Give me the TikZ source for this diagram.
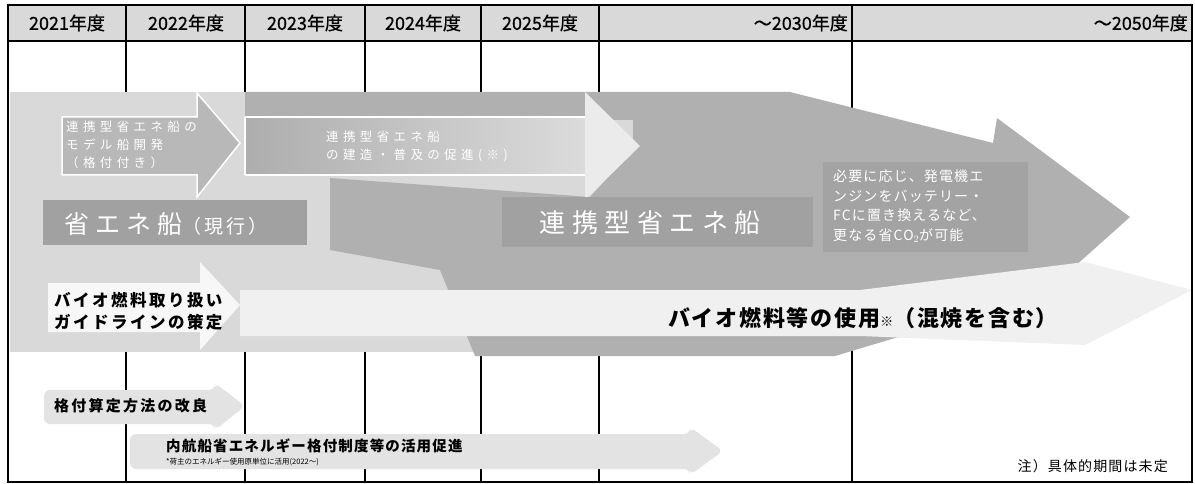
\documentclass[tikz,border=0pt]{standalone}
\usepackage{fontspec}
\newfontfamily\jpA{Noto Sans CJK JP}
\newfontfamily\jpH{Noto Sans CJK JP}[FakeBold=0.8]
\newfontfamily\jpB{Noto Sans CJK JP}[LetterSpace=35]
\newfontfamily\jpC{Noto Sans CJK JP}[LetterSpace=25]
\newfontfamily\jpD{Noto Sans CJK JP}[LetterSpace=15]
\newfontfamily\jpE{Noto Sans CJK JP}[LetterSpace=8]
\begin{document}
\begin{tikzpicture}[x=1pt,y=-1pt,
  gridline/.style={line width=1.1pt,black},
  hdr/.style={font=\jpH\fontsize{18}{18}\selectfont,inner sep=0pt,anchor=center},
  hdrr/.style={font=\jpH\fontsize{18}{18}\selectfont,inner sep=0pt,anchor=east},
  lightreg/.style={fill=gray!30},
  darkreg/.style={fill=gray!62},
  bandreg/.style={fill=gray!12},
  darkbox/.style={fill=gray!74},
  smallwhite/.style={text=white,font=\jpB\fontsize{12.5}{18}\selectfont,align=left,inner sep=0pt,anchor=north west},
  bigwhite/.style={text=white,inner sep=0pt},
  blackbold/.style={text=black,inner sep=0pt,anchor=west},
  softarrow/.style={fill=gray!22,rounded corners=6pt}
]
\useasboundingbox (0,0) rectangle (1195,484);
\fill[white] (0,0) rectangle (1195,484);
% header band
\fill[gray!30] (8,5) rectangle (1192,41);
\foreach \x in {126,245,365,481,599,852} \draw[gridline] (\x,5) -- (\x,482);

% light region (current energy-saving ships)
\fill[lightreg] (10,92) rectangle (700,352);
% big dark arrow
\fill[darkreg] (245,92) -- (790,92) -- (993,143) -- (997,118) -- (1130,217) -- (1045,293)
  -- (835,356) -- (475,356) -- (440,270) -- (330,250) -- (330,178) -- (590,197) -- (633,150) -- (633,92) -- cycle;
\fill[darkreg] (245,92) rectangle (640,120);
% bio-fuel band
\fill[bandreg] (240,290) -- (860,290) -- (1085,262) -- (1192,290) -- (1085,345) -- (860,336) -- (240,336) -- cycle;

% arrow 1 (model ship development)
\filldraw[fill=gray!56,draw=white,line width=1.5pt]
  (62,117) -- (197,117) -- (197,93) -- (240,143) -- (197,197) -- (197,175) -- (62,175) -- cycle;
% arrow 2 (construction / promotion)
\shade[left color=gray!64,right color=gray!28]
  (245,117) -- (585,117) -- (585,175) -- (245,175) -- cycle;
\fill[gray!16] (585,117) -- (585,92) -- (640,146) -- (585,200) -- (585,175) -- cycle;
\draw[white,line width=1.5pt] (245,117) -- (585,117) (245,175) -- (585,175) (245,117) -- (245,175);

% dark label boxes
\fill[darkbox] (43,200) rectangle (307,245);
\fill[darkbox] (502,197) rectangle (813,247);
\fill[gray!72] (823,162) rectangle (1028,252);

% bio-fuel guideline arrow
\fill[gray!6] (48,283) -- (200,283) -- (200,262) -- (240,305) -- (200,350) -- (200,332) -- (48,332) -- cycle;

% bottom arrows
\fill[softarrow] (44,390) -- (215,390) -- (215,383) -- (245,406) -- (215,430) -- (215,424) -- (44,424) -- cycle;
\fill[softarrow] (130,434) -- (690,434) -- (690,427) -- (723,451) -- (690,475) -- (690,469) -- (130,469) -- cycle;

% frame
\draw[gridline] (8,5) rectangle (1192,482);
\draw[gridline] (8,41) -- (1192,41);

% header texts
\node[hdr] (h1) at (67,23) {2021年度};
\node[hdr] (h2) at (186,23) {2022年度};
\node[hdr] (h3) at (305,23) {2023年度};
\node[hdr] (h4) at (423,23) {2024年度};
\node[hdr] (h5) at (540,23) {2025年度};
\node[hdrr] (h6) at (848,23) {～2030年度};
\node[hdrr] (h7) at (1188,23) {～2050年度};

% texts
\node[smallwhite] (t1) at (66,121) {連携型省エネ船の\\モデル船開発\\（格付付き）};
\node[smallwhite] (t2) at (326,131) {連携型省エネ船\\の建造・普及の促進(※)};
\node[bigwhite,anchor=west] (t3) at (64,224) {{\jpC\fontsize{25}{25}\selectfont 省エネ船}{\jpD\fontsize{19}{19}\selectfont（現行）}};
\node[bigwhite,anchor=center,font=\jpC\fontsize{26}{26}\selectfont] (t4) at (650,223) {連携型省エネ船};
\node[text=white,font=\jpE\fontsize{14}{19.5}\selectfont,align=left,inner sep=0pt,anchor=north west] (t5) at (833,170)
  {必要に応じ、発電機エ\\ンジンをバッテリー・\\FCに置き換えるなど、\\更なる省CO$_2$が可能};
\node[blackbold,font=\jpD\bfseries\fontsize{16.5}{22}\selectfont,align=left] (t6) at (54,311) {バイオ燃料取り扱い\\ガイドラインの策定};
\node[blackbold,font=\jpE\bfseries\fontsize{22}{22}\selectfont] (t7) at (668,318) {バイオ燃料等の使用{\fontsize{13}{13}\selectfont ※}（混焼を含む）};
\node[blackbold,font=\jpD\bfseries\fontsize{15}{15}\selectfont] (t8) at (54,406) {格付算定方法の改良};
\node[blackbold,font=\jpE\bfseries\fontsize{14.5}{14.5}\selectfont] (t9) at (166,446) {内航船省エネルギー格付制度等の活用促進};
\node[blackbold,font=\jpA\fontsize{7.5}{7.5}\selectfont] (t10) at (166,462) {*荷主のエネルギー使用原単位に活用(2022～)};
\node[font=\jpE\fontsize{14}{14}\selectfont,inner sep=0pt,anchor=east] (t11) at (1168,466) {注）具体的期間は未定};
\end{tikzpicture}
\end{document}
